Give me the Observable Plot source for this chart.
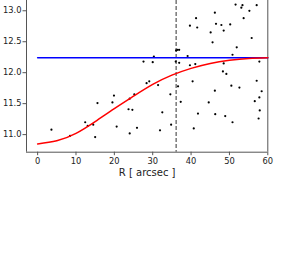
<!DOCTYPE html>
<html>
<head>
<meta charset="utf-8">
<script src="https://cdn.jsdelivr.net/npm/d3@7"></script>
<script src="https://cdn.jsdelivr.net/npm/@observablehq/plot@0.6"></script>
<style>
  html, body { margin: 0; padding: 0; background: #fff; }
  #chart svg { display: block; }
</style>
</head>
<body>
<div id="chart"></div>
<script>
// Scatter points: radius R [arcsec] and value
const pointR = [3.6, 8.45, 12.4, 13.05, 14.5, 15.0, 15.6, 19.5, 19.9, 20.6,
  24.0, 23.7, 24.7, 25.9, 24.0, 25.2, 28.4, 29.1, 27.6, 30.0,
  30.3, 31.4, 32.5, 31.9, 34.6, 34.8, 36.1, 36.5, 36.9, 36.0,
  36.9, 36.6, 37.3, 39.1, 39.7, 40.4, 39.7, 41.3, 41.6, 41.8,
  40.7, 41.1, 46.2, 45.1, 46.5, 47.9, 48.5, 50.2, 45.6, 51.6,
  53.1, 53.4, 55.2, 57.1, 53.7, 55.8, 51.9, 50.8, 48.5, 57.8,
  48.3, 49.2, 46.2, 50.5, 52.6, 57.1, 58.4, 57.8, 56.6, 44.6,
  46.3, 48.9, 50.8, 57.9, 57.6];
const pointV = [11.08, 10.98, 11.20, 11.14, 11.16, 10.96, 11.51, 11.52, 11.63, 11.13,
  11.02, 11.41, 11.40, 11.11, 11.58, 11.65, 11.83, 11.86, 12.18, 12.17,
  12.26, 11.80, 11.36, 11.07, 11.65, 11.16, 12.36, 12.37, 12.37, 12.18,
  12.16, 11.78, 11.53, 12.27, 12.12, 11.86, 12.76, 12.88, 12.73, 11.34,
  11.10, 12.14, 12.97, 12.65, 12.79, 12.77, 12.68, 12.78, 12.49, 13.10,
  13.05, 13.09, 13.00, 13.09, 12.88, 12.56, 12.41, 12.29, 12.15, 12.18,
  12.02, 11.98, 11.71, 11.79, 11.76, 11.87, 11.70, 11.60, 11.54, 11.52,
  11.33, 11.30, 11.20, 11.39, 11.26];

// Red model curve
const curveR = [0, 5, 10, 15, 20, 25, 30, 35, 40, 45, 50, 55, 60];
const curveV = [10.85, 10.90, 11.02, 11.21, 11.42, 11.62, 11.81, 11.96, 12.07, 12.15, 12.20, 12.23, 12.24];

// Blue horizontal level
const levelR = [0, 60];
const levelV = [12.24, 12.24];

// Dashed vertical marker
const markerR = [36.1];

// Axes
const xDomain = [-2.9, 60];
const yDomain = [10.716, 13.166];
const xTicks = [0, 10, 20, 30, 40, 50, 60];
const yTicks = [11.0, 11.5, 12.0, 12.5, 13.0];
const xLabel = "R [ arcsec ]";

const points = pointR.map((r, i) => ({r, v: pointV[i]}));
const curve = curveR.map((r, i) => ({r, v: curveV[i]}));
const level = levelR.map((r, i) => ({r, v: levelV[i]}));

const font = "'DejaVu Sans', sans-serif";

const chart = Plot.plot({
  width: 281,
  height: 260,
  marginLeft: 26,
  marginRight: 13.7,
  marginTop: 0,
  marginBottom: 108.3,
  style: {fontFamily: font, background: "#fff", color: "#222"},
  x: {domain: xDomain},
  y: {domain: yDomain},
  marks: [
    Plot.ruleX(xDomain, {stroke: "#555", strokeWidth: 1}),
    Plot.ruleY([yDomain[0]], {stroke: "#555", strokeWidth: 1}),
    Plot.axisX({ticks: xTicks, tickSize: 3.5, tickPadding: 2.5, fontSize: 8.3, label: null, tickFormat: d => String(d), stroke: "#555"}),
    Plot.axisY({ticks: yTicks, tickSize: 3.5, tickPadding: 1.5, fontSize: 8.3, label: null, tickFormat: d => d.toFixed(1), stroke: "#555"}),
    Plot.text([xLabel], {frameAnchor: "bottom", dy: 20.6, lineAnchor: "middle", fontSize: 10, fill: "#222"}),
    Plot.ruleX(markerR, {stroke: "#333", strokeWidth: 1, strokeDasharray: "4,2"}),
    Plot.dot(points, {x: "r", y: "v", r: 1.1, fill: "#000", stroke: null}),
    Plot.line(level, {x: "r", y: "v", stroke: "blue", strokeWidth: 1.5}),
    Plot.line(curve, {x: "r", y: "v", stroke: "red", strokeWidth: 1.5, curve: "natural"})
  ]
});
document.getElementById("chart").appendChild(chart);
</script>
</body>
</html>
